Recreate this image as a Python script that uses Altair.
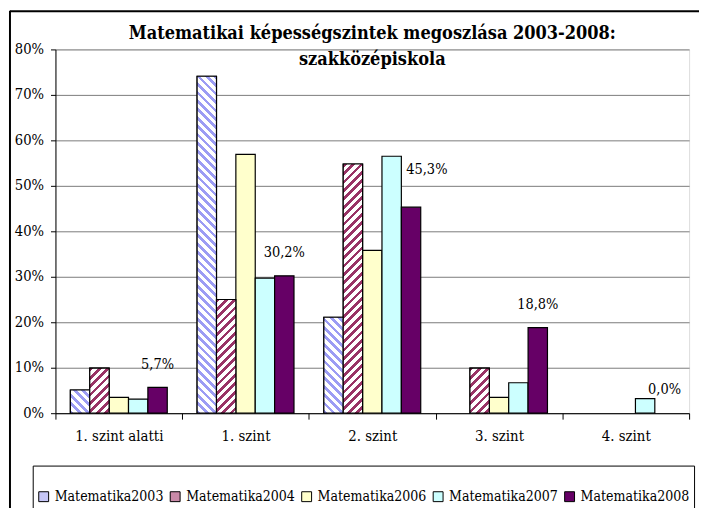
import altair as alt

# ---------------- data ----------------
categories = ["1. szint alatti", "1. szint", "2. szint", "3. szint", "4. szint"]
series = ["Matematika2003", "Matematika2004", "Matematika2006", "Matematika2007", "Matematika2008"]
m2003 = [5.1, 74.1, 21.1, 0.0, 0.0]
m2004 = [9.9, 25.0, 54.8, 9.9, 0.0]
m2006 = [3.5, 56.9, 35.8, 3.5, 0.0]
m2007 = [3.1, 29.7, 56.5, 6.7, 3.2]
m2008 = [5.7, 30.2, 45.3, 18.8, 0.0]
y_ticks = [0, 10, 20, 30, 40, 50, 60, 70, 80]
title_lines = ["Matematikai képességszintek megoszlása 2003-2008:", "szakközépiskola"]

# ---------------- style ----------------
FONT = "DejaVu Serif Condensed, DejaVu Serif"
PLOT_W, PLOT_H = 641, 368
Y_MAX = 80
OUTER_PAD = 0.77
legend_colors = ["#C6C6F7", "#C98AA8", "#FFFFCC", "#CCFFFF", "#660066"]
stripe_colors = {"Matematika2003": ("#9C9CF4", True), "Matematika2004": ("#993366", False)}
BAR_W = PLOT_W / len(categories) / (len(series) + 2 * OUTER_PAD)
PX_PER_UNIT = PLOT_H / Y_MAX
PERIOD = 8.5
LABEL_SHIFT_CAT = "2. szint"   # label moved by hand in the original


def stripe_fill(v, color, down):
    w = BAR_W
    h = v * PX_PER_UNIT
    s = (w + h) / (w * w + h * h)
    if down:
        x1, y1, x2, y2 = 0.0, 1.0, w * s, 1.0 - h * s
    else:
        x1, y1, x2, y2 = 0.0, 0.0, w * s, h * s
    n = (w + h) / PERIOD
    stops = []
    k = 0
    while k / n < 1:
        a = k / n
        b = min((k + 0.45) / n, 1.0)
        c = min((k + 1) / n, 1.0)
        stops += [
            {"offset": a, "color": color},
            {"offset": b, "color": color},
            {"offset": b, "color": "#FFFFFF"},
            {"offset": c, "color": "#FFFFFF"},
        ]
        k += 1
    return {"gradient": "linear", "x1": x1, "y1": y1, "x2": x2, "y2": y2, "stops": stops}


all_vals = [m2003, m2004, m2006, m2007, m2008]
records = []
for s_name, vals in zip(series, all_vals):
    for cat, v in zip(categories, vals):
        records.append({"kat": cat, "sor": s_name, "ertek": v})

hatched = []
for r in records:
    if r["sor"] in stripe_colors and r["ertek"] > 0:
        col, down = stripe_colors[r["sor"]]
        hatched.append({**r, "grad": stripe_fill(r["ertek"], col, down)})

base_data = alt.Data(values=records)

x_enc = alt.X("kat:N", sort=categories, scale=alt.Scale(domain=categories, paddingInner=0, paddingOuter=0),
              axis=alt.Axis(title=None, tickBand="extent", tickSize=6, tickColor="black", domainColor="black",
                            labelFont=FONT, labelFontSize=15, labelColor="black", labelPadding=10,
                            labelAngle=0, grid=False))
xo_enc = alt.XOffset("sor:N", sort=series, scale=alt.Scale(domain=series, paddingInner=0, paddingOuter=OUTER_PAD))
y_enc = alt.Y("ertek:Q", scale=alt.Scale(domain=[0, Y_MAX], nice=False),
              axis=alt.Axis(title=None, values=y_ticks, labelExpr="datum.value + '%'", tickSize=5,
                            tickColor="black", domainColor="black", gridColor="#7A7A7A", gridWidth=1,
                            labelFont=FONT, labelFontSize=14.8, labelColor="black", labelPadding=7))

bars = alt.Chart(base_data).mark_bar(stroke="black", strokeWidth=1.2).encode(
    x=x_enc, xOffset=xo_enc, y=y_enc,
    color=alt.Color("sor:N", sort=series, scale=alt.Scale(domain=series, range=legend_colors),
                    legend=alt.Legend(title=" ", titleFontSize=9, titlePadding=11, orient="none",
                                      legendX=-23, legendY=421, direction="horizontal",
                                      symbolType="square", symbolSize=100, symbolStrokeColor="black",
                                      symbolStrokeWidth=1, labelFont=FONT, labelFontSize=14.2,
                                      labelColor="black", labelOffset=4, columnPadding=4,
                                      strokeColor="black", fillColor="white", padding=4)),
).transform_filter("datum.ertek > 0")

hatch = alt.Chart(alt.Data(values=hatched)).mark_bar(stroke="black", strokeWidth=1.2).encode(
    x=alt.X("kat:N", sort=categories),
    xOffset=alt.XOffset("sor:N", sort=series),
    y=alt.Y("ertek:Q"),
    fill=alt.Fill("grad:N", scale=None, legend=None),
)


def label_layer(test, dx, dy):
    return alt.Chart(base_data).mark_text(font=FONT, fontSize=14.6, color="black", baseline="alphabetic",
                                          align="center", dx=dx, dy=dy).encode(
        x=alt.X("kat:N", sort=categories),
        xOffset=alt.XOffset("sor:N", sort=series),
        y=alt.Y("ertek:Q"),
        text="felirat:N",
    ).transform_filter(alt.datum.sor == "Matematika2008").transform_filter(test).transform_calculate(
        felirat="replace(format(datum.ertek, '.1f'), '.', ',') + '%'"
    )


labels = label_layer(alt.datum.kat != LABEL_SHIFT_CAT, 0, -19)
labels_moved = label_layer(alt.datum.kat == LABEL_SHIFT_CAT, 16, -34)

frame_data = alt.Data(values=[{"k": 0}])
frame_left = alt.Chart(frame_data).mark_rule(color="black", strokeWidth=2).encode(
    x=alt.value(-46), y=alt.value(-39), y2=alt.value(470))
frame_top = alt.Chart(frame_data).mark_rule(color="black", strokeWidth=2).encode(
    y=alt.value(-38.5), x=alt.value(-46), x2=alt.value(660))

chart = alt.layer(bars, hatch, labels, labels_moved, frame_left, frame_top).properties(
    width=PLOT_W, height=PLOT_H,
    title=alt.Title(title_lines, font=FONT, fontSize=18.2, fontWeight="bold", color="black",
                    anchor="middle", baseline="alphabetic", lineHeight=26, offset=-74),
    autosize=alt.AutoSizeParams(type="none"),
    padding={"left": 48, "top": 39, "right": 10, "bottom": 93},
).configure_view(stroke="#808080", strokeWidth=1).configure(background="white")

chart.save("out.html", embed_options={"renderer": "svg", "actions": False})
